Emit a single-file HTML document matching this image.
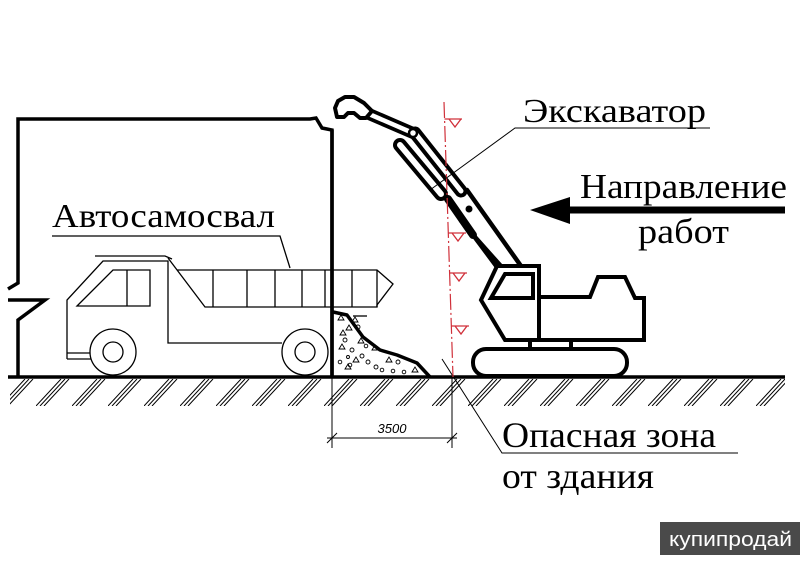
<!DOCTYPE html>
<html><head><meta charset="utf-8"><style>
html,body{margin:0;padding:0;background:#fff;}
svg{display:block;}
.s{font-family:"Liberation Serif","Noto Serif CJK SC",serif;fill:#000;}
</style></head><body>
<svg width="800" height="565" viewBox="0 0 800 565" xmlns="http://www.w3.org/2000/svg">
<defs>
<pattern id="h" patternUnits="userSpaceOnUse" x="0" y="379" width="36" height="27">
<g stroke="#000" stroke-width="1">
<line x1="0" y1="27" x2="25" y2="0"/><line x1="4" y1="27" x2="29" y2="0"/><line x1="8" y1="27" x2="33" y2="0"/>
</g></pattern>
</defs>
<rect width="800" height="565" fill="#fff"/>
<!-- ground hatch -->
<rect x="10" y="379" width="775" height="27" fill="url(#h)"/>
<line x1="8" y1="377" x2="785" y2="377" stroke="#000" stroke-width="3.5"/>

<!-- building -->
<path d="M18,377 V320 L45,300 H8 M8,289 L18,283 V119 H310 L316,118 L322,128 L332,130 V377" fill="none" stroke="#000" stroke-width="3.5" stroke-linejoin="miter"/>

<!-- truck -->
<g fill="none" stroke="#000" stroke-width="1.3">
<path d="M67,359 V300 L103,261 H168 V343 H282"/>
<path d="M67,353 H93 M67,359 H93"/>
<path d="M95,256 H165 L172,259"/>
<path d="M168,258 L205,307 H377 L377,305 L393,284 L377,270 H177"/>
<path d="M213,270 V307 M247,270 V307 M275,270 V307 M302,270 V307 M325,270 V307 M352,270 V307 M377,270 V307"/>
<path d="M77,306 L113,270 H150 V306 Z M127,270 V306"/>
<path d="M52,236 H280 L290,268"/>
<path d="M353,316 H367"/>
</g>
<g fill="#fff" stroke="#000" stroke-width="1.3">
<circle cx="113" cy="352" r="23"/><circle cx="113" cy="352" r="10"/>
<circle cx="305" cy="352" r="23"/><circle cx="305" cy="352" r="10"/>
</g>
<!-- redraw wall over truck -->
<line x1="332" y1="130" x2="332" y2="377" stroke="#000" stroke-width="3.5"/>

<!-- debris pile -->
<path d="M333,312 L347,315 L363,337 L380,350 L397,355 L417,363 L430,377" fill="none" stroke="#000" stroke-width="3.5" stroke-linejoin="round"/>
<g fill="none" stroke="#000" stroke-width="0.9">
<path d="M338,320 l3,-5 l3,5 z M346,330 l3,-5 l3,5 z M339,349 l3,-5 l3,5 z M353,362 l3,-5 l3,5 z M345,369 l3,-5 l3,5 z M372,350 l3,-5 l3,5 z M386,362 l3,-5 l3,5 z M412,372 l3,-5 l3,5 z M358,343 l3,-5 l3,5 z M340,335 l3,-5 l3,5 z M352,322 l3,-5 l3,5 z"/>
<circle cx="345" cy="340" r="2"/><circle cx="352" cy="350" r="2"/><circle cx="362" cy="356" r="2"/>
<circle cx="368" cy="362" r="2"/><circle cx="376" cy="367" r="2"/><circle cx="382" cy="370" r="1.8"/>
<circle cx="398" cy="362" r="2"/><circle cx="393" cy="371" r="1.8"/><circle cx="404" cy="372" r="1.8"/>
<circle cx="350" cy="365" r="1.8"/><circle cx="358" cy="327" r="2"/><circle cx="366" cy="346" r="1.8"/>
<circle cx="340" cy="362" r="1.8"/><circle cx="348" cy="357" r="1.5"/>
</g>

<!-- dimension -->
<g stroke="#000" stroke-width="1" fill="none">
<line x1="332" y1="378" x2="332" y2="448"/>
<line x1="452" y1="378" x2="452" y2="448"/>
<line x1="327" y1="438" x2="457" y2="438"/>
<line x1="327" y1="443" x2="337" y2="433"/>
<line x1="447" y1="443" x2="457" y2="433"/>
</g>
<text x="392" y="433" text-anchor="middle" font-family="Liberation Sans, sans-serif" font-style="italic" font-size="13">3500</text>

<!-- leader Опасная зона -->
<path d="M442,359 L502,453 H738" fill="none" stroke="#000" stroke-width="1"/>

<!-- excavator boom -->
<g stroke-linecap="round">
<line x1="400" y1="145" x2="441" y2="194" stroke="#000" stroke-width="14"/>
<line x1="400" y1="145" x2="441" y2="194" stroke="#fff" stroke-width="6"/>
<line x1="362" y1="111" x2="413" y2="133" stroke="#000" stroke-width="12"/>
<line x1="362" y1="111" x2="413" y2="133" stroke="#fff" stroke-width="4.5"/>
<line x1="415" y1="133" x2="461" y2="191" stroke="#000" stroke-width="13"/>
<line x1="415" y1="133" x2="461" y2="191" stroke="#fff" stroke-width="5"/>
</g>
<circle cx="413" cy="133" r="4" fill="#fff" stroke="#000" stroke-width="2.5"/>
<path d="M337,117 L335,108 L338,101 L345,97 L354,97 L364,103 L372,111 L366,118 L360,118 L354,113 L348,113 L344,117 Z" fill="#fff" stroke="#000" stroke-width="4" stroke-linejoin="round"/>
<g stroke="#000" fill="none" stroke-linecap="round">
<line x1="448" y1="199" x2="473" y2="235" stroke-width="8"/>
<line x1="447" y1="200" x2="497" y2="267" stroke-width="4.5"/>
<line x1="467" y1="190" x2="521" y2="266" stroke-width="4.5"/>
<line x1="461" y1="221" x2="502" y2="267" stroke-width="4"/>
</g>
<circle cx="469" cy="209" r="3.5" fill="#000"/>

<!-- excavator body -->
<g fill="none" stroke="#000" stroke-width="4" stroke-linejoin="miter">
<path d="M497,266 H539 V297 H590 L598,277 H625 L635,298 H644 V340 H505 L481,300 Z" fill="#fff"/>
<line x1="539" y1="266" x2="539" y2="340"/>
<path d="M505,274 H533 V298 H491 Z"/>
<line x1="530" y1="340" x2="530" y2="350"/>
<line x1="571" y1="340" x2="571" y2="350"/>
<rect x="473" y="349" width="154" height="27" rx="13" ry="13" fill="#fff"/>
</g>

<!-- red danger line -->
<line x1="444" y1="102" x2="453" y2="377" stroke="#d0303a" stroke-width="1.2" stroke-dasharray="16 3 2 3"/>
<g fill="none" stroke="#d0303a" stroke-width="1.3">
<path d="M444.5,119 H462 M449,119 L455,127 L461,119"/>
<path d="M448,233 H466 M452,233 L458,241 L464,233"/>
<path d="M449.5,273 H467 M453,273 L459,281 L465,273"/>
<path d="M451,326 H469 M455,326 L461,334 L467,326"/>
</g>

<!-- Экскаватор leader -->
<path d="M430,190 L515,128 H710" fill="none" stroke="#000" stroke-width="1"/>

<!-- arrow -->
<rect x="568" y="206.5" width="217" height="7" fill="#000"/>
<polygon points="530,210 570,197 570,224" fill="#000"/>

<!-- texts -->
<text class="s" x="52" y="227" font-size="34" textLength="223" lengthAdjust="spacingAndGlyphs">Автосамосвал</text>
<text class="s" x="523" y="122" font-size="34" textLength="183" lengthAdjust="spacingAndGlyphs">Экскаватор</text>
<text class="s" x="580" y="198" font-size="35" textLength="207" lengthAdjust="spacingAndGlyphs">Направление</text>
<text class="s" x="638" y="243" font-size="35" textLength="91" lengthAdjust="spacingAndGlyphs">работ</text>
<text class="s" x="502" y="447" font-size="36" textLength="214" lengthAdjust="spacingAndGlyphs">Опасная зона</text>
<text class="s" x="502" y="488" font-size="36" textLength="152" lengthAdjust="spacingAndGlyphs">от здания</text>

<!-- watermark -->
<rect x="660" y="522" width="140" height="33" fill="#4a4a4a"/>
<text x="669" y="546" font-family="Liberation Sans, sans-serif" font-size="20" fill="#fff" textLength="123" lengthAdjust="spacingAndGlyphs">купипродай</text>
</svg>
</body></html>
